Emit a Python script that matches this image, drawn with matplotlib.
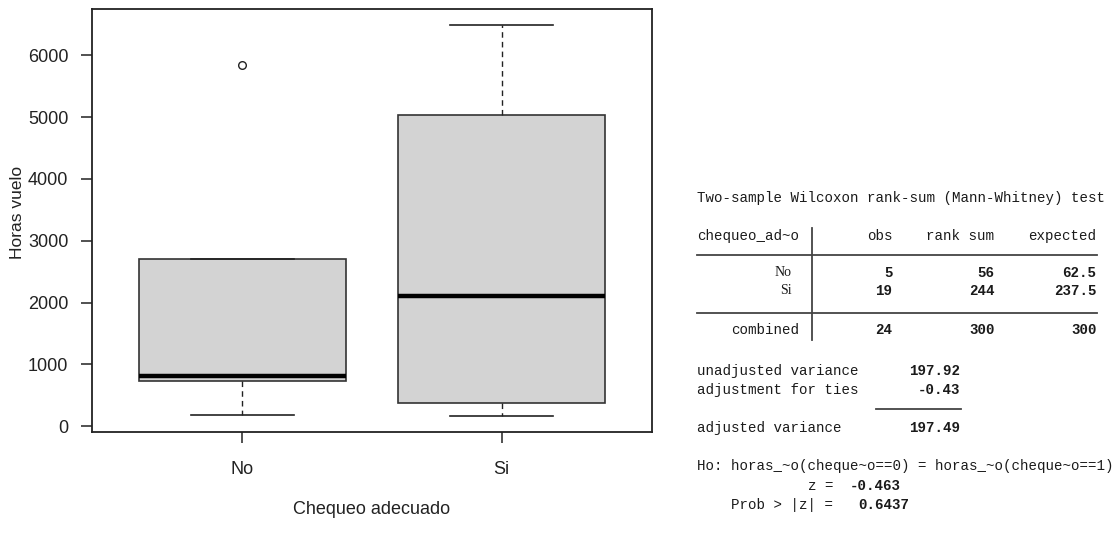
import matplotlib
matplotlib.use("Agg")
import matplotlib.pyplot as plt
import numpy as np

# ---------------- data ----------------
groups = ["No", "Si"]
whislo = [183, 160]
q1 = [736, 382]
med = [819, 2100]
q3 = [2700, 5035]
whishi = [2700, 6497]
fliers = [[5840], []]
yticks = [0, 1000, 2000, 3000, 4000, 5000, 6000]
xlabel = "Chequeo adecuado"
ylabel = "Horas vuelo"

# Stata output (text)
title_line = "Two-sample Wilcoxon rank-sum (Mann-Whitney) test"
table_header = ["obs", "rank sum", "expected"]
row_names = ["No", "Si"]
row_obs = ["5", "19"]
row_ranksum = ["56", "244"]
row_expected = ["62.5", "237.5"]
comb_vals = ["24", "300", "300"]
var_labels = ["unadjusted variance", "adjustment for ties", "adjusted variance"]
var_vals = ["197.92", "-0.43", "197.49"]
ho_line = "Ho: horas_~o(cheque~o==0) = horas_~o(cheque~o==1)"
z_val = "-0.463"
p_val = "0.6437"

# ---------------- figure ----------------
W, H = 1117, 537
fig = plt.figure(figsize=(W / 100, H / 100), dpi=100)
fig.patch.set_facecolor("white")

L, R, T, B = 92, 652, 9, 432
ax = fig.add_axes([L / W, 1 - B / H, (R - L) / W, (B - T) / H])

stats = []
for i in range(len(groups)):
    stats.append(dict(whislo=whislo[i], q1=q1[i], med=med[i], q3=q3[i],
                      whishi=whishi[i], fliers=fliers[i], label=groups[i]))

pos = np.arange(1, len(groups) + 1)
ax.bxp(stats, positions=pos, widths=0.8, patch_artist=True,
       showfliers=True,
       boxprops=dict(facecolor="#d3d3d3", edgecolor="#333333", linewidth=1.2),
       medianprops=dict(color="black", linewidth=3.2, solid_capstyle="butt"),
       whiskerprops=dict(color="#222222", linewidth=1.0, linestyle=(0, (4, 3))),
       capprops=dict(color="#222222", linewidth=1.2),
       capwidths=0.4,
       flierprops=dict(marker="o", markerfacecolor="white", markeredgecolor="#222222",
                       markersize=5.5, markeredgewidth=1.0))

allv = whislo + whishi + [f for fl in fliers for f in fl]
lo, hi = min(allv), max(allv)
pad = 0.04 * (hi - lo)
ax.set_ylim(lo - pad, hi + pad)
ax.set_xlim(0.42, 2.58)
ax.set_yticks(yticks)
ax.set_yticklabels([str(v) for v in yticks])
ax.set_xticks(pos)
ax.set_xticklabels(groups)

for s in ax.spines.values():
    s.set_color("#222222")
    s.set_linewidth(1.3)
ax.tick_params(axis="both", direction="out", length=8, width=1.1, color="#222222",
               labelsize=13, labelcolor="#222222")
ax.tick_params(axis="y", pad=9)
ax.tick_params(axis="x", pad=13)
for lab in ax.get_xticklabels() + ax.get_yticklabels():
    lab.set_fontfamily("Liberation Sans")

# ---------------- overlay in pixel coords ----------------
ov = fig.add_axes([0, 0, 1, 1], facecolor="none")
ov.set_xlim(0, W)
ov.set_ylim(H, 0)
ov.axis("off")

ov.text(372, 509, xlabel, ha="center", va="center", fontsize=13,
        family="Liberation Sans", color="#222222")
ov.text(18, 212, ylabel, ha="center", va="center", fontsize=12.5, rotation=90,
        family="Liberation Sans", color="#222222")

X0 = 697
CW = 8.5
MONO = "Liberation Mono"
FS = 10.2
TC = "#1a1a1a"


def put(col, y, s, bold=False):
    ov.text(X0 + col * CW, y, s, ha="left", va="center", fontsize=FS, family=MONO,
            fontweight="bold" if bold else "normal", color=TC)


def put_right(endcol, y, s, bold=True):
    put(endcol - len(s), y, s, bold)


put(0, 198, title_line)
put(0, 236, "chequeo_ad~o")
ends = [23, 35, 47]
for e, h in zip(ends, table_header):
    put_right(e, 236, h, bold=False)

row_ys = [273, 291]
for i, y in enumerate(row_ys):
    ov.text(792, y, row_names[i], ha="right", va="center", fontsize=10,
            family="Liberation Serif", color=TC)
    put_right(23, y, row_obs[i])
    put_right(35, y, row_ranksum[i])
    put_right(47, y, row_expected[i])

put(4, 330, "combined")
for e, v in zip(ends, comb_vals):
    put_right(e, 330, v)

# table rules
lc = "#444444"
ov.plot([X0, X0 + 47 * CW], [255, 255], color=lc, lw=1.3)
ov.plot([X0, X0 + 47 * CW], [313, 313], color=lc, lw=1.3)
ov.plot([812, 812], [228, 340], color=lc, lw=1.3)

var_ys = [371, 390, 428]
for lab, v, y in zip(var_labels, var_vals, var_ys):
    put(0, y, lab)
    put_right(31, y, v)
ov.plot([X0 + 21 * CW, X0 + 31 * CW], [409, 409], color=lc, lw=1.3)

put(0, 466, ho_line)
put(13, 486, "z =")
put(18, 486, z_val, bold=True)
put(4, 505, "Prob > |z| =")
put(19, 505, p_val, bold=True)

fig.savefig("out.png", dpi=100, facecolor="white")
